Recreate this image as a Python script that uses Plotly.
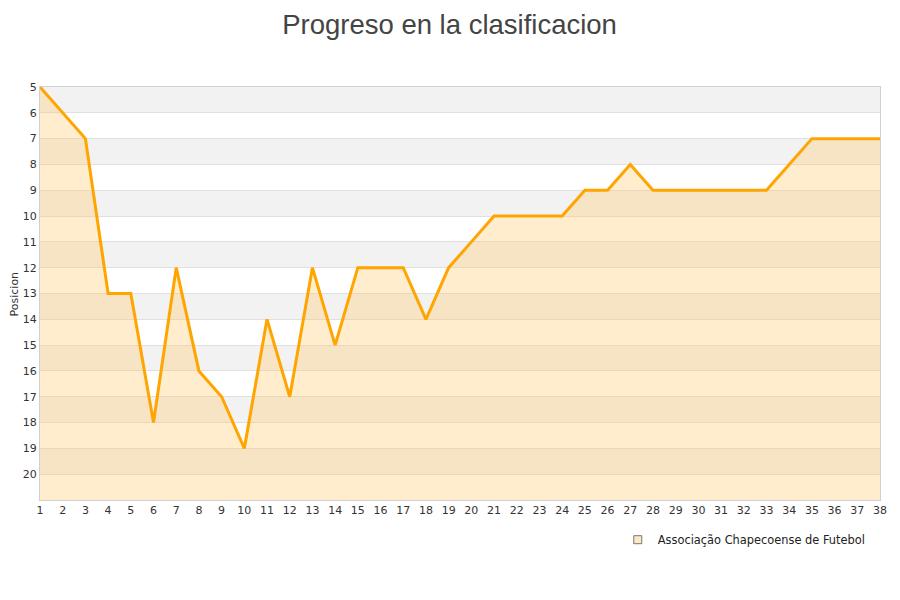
import plotly.graph_objects as go

jornadas = list(range(1, 39))
posiciones = [5, 6, 7, 13, 13, 18, 12, 16, 17, 19, 14, 17, 12, 15, 12, 12, 12, 14, 12, 11,
              10, 10, 10, 10, 9, 9, 8, 9, 9, 9, 9, 9, 9, 8, 7, 7, 7, 7]
equipo = "Associação Chapecoense de Futebol"
y_ticks = list(range(5, 21))
y_bottom = 21
y_top = 5

fig = go.Figure()

# baseline for fill
fig.add_trace(go.Scatter(x=jornadas, y=[y_bottom] * len(jornadas), mode="lines",
                         line=dict(width=0, color="rgba(0,0,0,0)"), showlegend=False,
                         hoverinfo="skip"))
fig.add_trace(go.Scatter(x=jornadas, y=posiciones, mode="lines", fill="tonexty",
                         fillcolor="rgba(255,196,90,0.30)",
                         line=dict(color="#FFA500", width=3), showlegend=False, name=equipo))
fig.add_trace(go.Scatter(x=[None], y=[None], mode="markers", name=equipo,
                         marker=dict(symbol="square", size=8, color="#FDE8C4",
                                     line=dict(color="#777777", width=1))))

shapes = []
for k in range(y_top, y_bottom, 2):
    shapes.append(dict(type="rect", xref="paper", yref="y", x0=0, x1=1, y0=k, y1=k + 1,
                       fillcolor="#F2F2F2", line=dict(width=0), layer="below"))

fig.update_layout(
    width=900, height=600,
    paper_bgcolor="white", plot_bgcolor="white",
    margin=dict(l=32, r=28, t=79, b=108, autoexpand=False),
    title=dict(text="Progreso en la clasificacion", x=0.4906, xanchor="center", y=1 - 7 / 600,
               yanchor="top", pad=dict(t=0, b=0),
               font=dict(family="Liberation Sans, Arial, sans-serif", size=27.5, color="#444444")),
    font=dict(family="DejaVu Sans, sans-serif", size=11, color="#333333"),
    shapes=shapes,
    xaxis=dict(range=[1, 38], tickmode="array", tickvals=jornadas, ticktext=[str(j) for j in jornadas],
               showgrid=False, zeroline=False, showline=True, linecolor="#D0D0D0", linewidth=1,
               ticks="", tickfont=dict(size=11, color="#333333"), mirror=True, automargin=False),
    yaxis=dict(range=[y_bottom, y_top], tickmode="array", tickvals=y_ticks,
               ticktext=[str(t) for t in y_ticks], showgrid=True, gridcolor="#E0E0E0", gridwidth=1,
               zeroline=False, showline=True, linecolor="#D0D0D0", linewidth=1, mirror=True,
               ticks="", tickfont=dict(size=11, color="#333333"), automargin=False),
    annotations=[dict(text="Posicion", xref="paper", yref="paper", x=-0.0298, y=0.5,
                      xanchor="center", yanchor="middle", textangle=-90, showarrow=False,
                      font=dict(size=11, color="#333333"))],
    legend=dict(x=0.989, y=-0.061, xanchor="right", yanchor="top", orientation="h",
                font=dict(size=11.4, color="#222222"), bgcolor="rgba(0,0,0,0)"),
)

fig.write_html("out.html")
